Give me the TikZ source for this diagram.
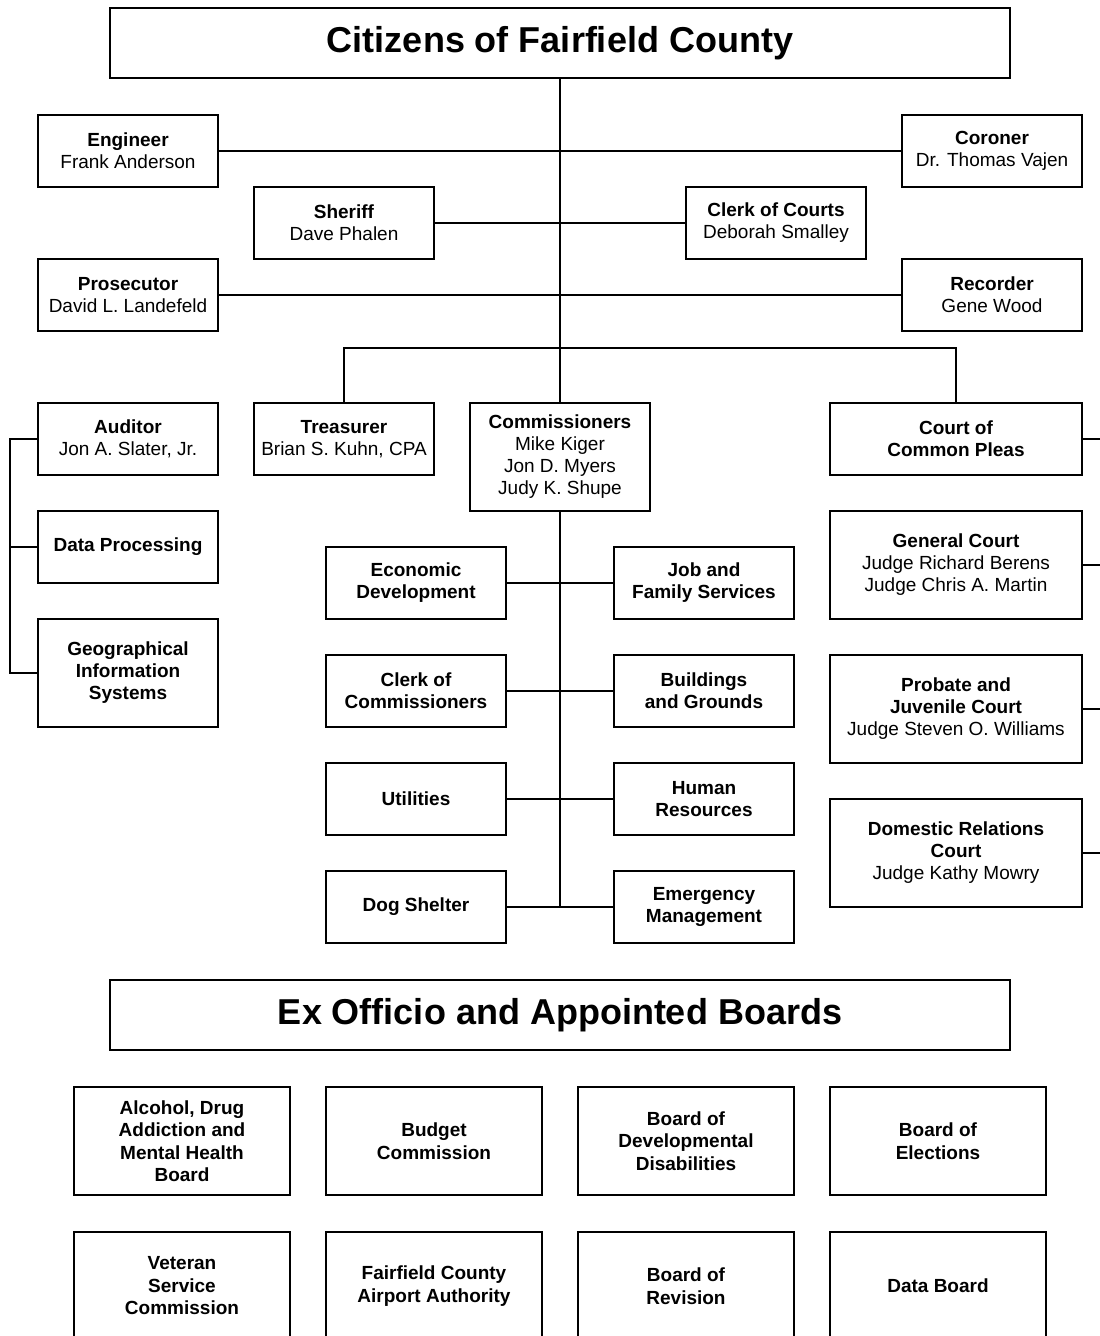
\documentclass[tikz,border=0pt]{standalone}
\usepackage{fontspec}
\setmainfont{Liberation Sans}
\tikzset{
  box/.style={draw, line width=1.5pt, align=center, minimum width=180pt, minimum height=72pt, inner sep=1pt, font=\fontsize{19}{22}\selectfont},
  tallbox/.style={box, minimum height=108pt},
  courtbox/.style={box, minimum width=252pt},
  boardbox/.style={box, minimum width=216pt, minimum height=108pt, font=\fontsize{19}{22.5}\selectfont\bfseries},
  headbox/.style={draw, line width=1.5pt, minimum width=900pt, minimum height=70pt, font=\fontsize{36}{40}\selectfont\bfseries},
  link/.style={line width=1.5pt}
}
\begin{document}
\begin{tikzpicture}[x=1pt, y=-1pt]
  \useasboundingbox (0,0) rectangle (1100,1336);
  \clip (0,0) rectangle (1100,1336);

  % top
  \node[headbox] (citizens) at (560,43) {Citizens of Fairfield County};

  % elected officials
  \node[box] (engineer) at (128,151) {\textbf{Engineer}\\Frank Anderson};
  \node[box] (coroner) at (992,151) {\textbf{Coroner}\\Dr. Thomas Vajen};
  \node[box] (sheriff) at (344,223) {\textbf{Sheriff}\\Dave Phalen};
  \node[box] (clerkcourts) at (776,223) {\textbf{Clerk of Courts}\\Deborah Smalley};
  \node[box] (prosecutor) at (128,295) {\textbf{Prosecutor}\\David L. Landefeld};
  \node[box] (recorder) at (992,295) {\textbf{Recorder}\\Gene Wood};

  % auditor group
  \node[box] (auditor) at (128,439) {\textbf{Auditor}\\Jon A. Slater, Jr.};
  \node[box] (dataproc) at (128,547) {\textbf{Data Processing}};
  \node[tallbox] (gis) at (128,673) {\textbf{Geographical}\\\textbf{Information}\\\textbf{Systems}};

  \node[box] (treasurer) at (344,439) {\textbf{Treasurer}\\Brian S. Kuhn, CPA};
  \node[tallbox] (commissioners) at (560,457) {\textbf{Commissioners}\\Mike Kiger\\Jon D. Myers\\Judy K. Shupe};

  % courts
  \node[courtbox] (pleas) at (956,439) {\textbf{Court of}\\\textbf{Common Pleas}};
  \node[courtbox, minimum height=108pt] (general) at (956,565) {\textbf{General Court}\\Judge Richard Berens\\Judge Chris A. Martin};
  \node[courtbox, minimum height=108pt] (probate) at (956,709) {\textbf{Probate and}\\\textbf{Juvenile Court}\\Judge Steven O. Williams};
  \node[courtbox, minimum height=108pt] (domestic) at (956,853) {\textbf{Domestic Relations}\\\textbf{Court}\\Judge Kathy Mowry};

  % departments
  \node[box] (econ) at (416,583) {\textbf{Economic}\\\textbf{Development}};
  \node[box] (jobfam) at (704,583) {\textbf{Job and}\\\textbf{Family Services}};
  \node[box] (clerkcomm) at (416,691) {\textbf{Clerk of}\\\textbf{Commissioners}};
  \node[box] (buildings) at (704,691) {\textbf{Buildings}\\\textbf{and Grounds}};
  \node[box] (utilities) at (416,799) {\textbf{Utilities}};
  \node[box] (hr) at (704,799) {\textbf{Human}\\\textbf{Resources}};
  \node[box] (dogs) at (416,907) {\textbf{Dog Shelter}};
  \node[box] (ema) at (704,907) {\textbf{Emergency}\\\textbf{Management}};

  % boards
  \node[headbox] (exofficio) at (560,1015) {Ex Officio and Appointed Boards};
  \node[boardbox] (adamh) at (182,1141) {Alcohol, Drug\\Addiction and\\Mental Health\\Board};
  \node[boardbox] (budget) at (434,1141) {Budget\\Commission};
  \node[boardbox] (dd) at (686,1141) {Board of\\Developmental\\Disabilities};
  \node[boardbox] (elections) at (938,1141) {Board of\\Elections};
  \node[boardbox] (veteran) at (182,1286) {Veteran\\Service\\Commission};
  \node[boardbox] (airport) at (434,1286) {Fairfield County\\Airport Authority};
  \node[boardbox] (revision) at (686,1286) {Board of\\Revision};
  \node[boardbox] (databoard) at (938,1286) {Data Board};

  % connectors
  \coordinate (bar) at (560,348);
  \coordinate (trunkend) at (560,907);
  \coordinate (lbar) at (10,547);
  \coordinate (redge) at (1100,0);

  \draw[link] (citizens.south) -- (commissioners.north);
  \draw[link] (commissioners.south) -- (trunkend);
  \draw[link] (engineer.east) -- (coroner.west);
  \draw[link] (sheriff.east) -- (clerkcourts.west);
  \draw[link] (prosecutor.east) -- (recorder.west);
  \draw[link] (treasurer.north) |- (bar) -| (pleas.north);

  \draw[link] (auditor.west) -| (lbar) |- (gis.west);
  \draw[link] (dataproc.west) -- (lbar);

  \foreach \c in {pleas, general, probate, domestic}
    \draw[link] (\c.east) -- (\c.east -| redge);

  \draw[link] (econ.east) -- (jobfam.west);
  \draw[link] (clerkcomm.east) -- (buildings.west);
  \draw[link] (utilities.east) -- (hr.west);
  \draw[link] (dogs.east) -- (ema.west);
\end{tikzpicture}
\end{document}
